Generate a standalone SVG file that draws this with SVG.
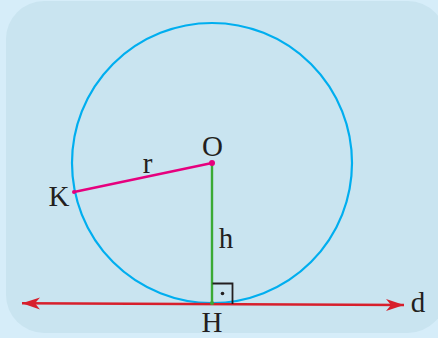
<svg xmlns="http://www.w3.org/2000/svg" width="438" height="338" viewBox="0 0 438 338">
<style>
text{font-family:"Liberation Serif","DejaVu Serif",serif;font-size:29px;fill:#231f20;}
.tm{text-anchor:middle;}
</style>
<defs>
<marker id="ah" markerUnits="userSpaceOnUse" markerWidth="20" markerHeight="14" refX="18" refY="7" orient="auto-start-reverse">
<path d="M0,1 L18,7 L0,13 L5,7 z" fill="#d71f2c"/>
</marker>
</defs>
<rect width="438" height="338" fill="#d6edf9"/>
<rect x="6" y="1" width="440" height="332" rx="38" fill="#c9e4f0"/>
<g id="circle"><circle cx="212" cy="163" r="140" fill="none" stroke="#00aeef" stroke-width="2.2"/></g>
<g id="connectors">
<line x1="22" y1="303.3" x2="404" y2="305" stroke="#d71f2c" stroke-width="2.4" marker-start="url(#ah)" marker-end="url(#ah)"/>
<line x1="212" y1="163" x2="212" y2="303" stroke="#3aaa35" stroke-width="2.4"/>
<line x1="212" y1="163" x2="74" y2="192" stroke="#e6007e" stroke-width="2.4"/>
<polyline points="212.5,283.5 232.5,283.5 232.5,304" fill="none" stroke="#231f20" stroke-width="1.8"/>
<circle cx="222.5" cy="293.5" r="1.8" fill="#231f20"/>
</g>
<g id="O"><circle cx="212" cy="163" r="3" fill="#e6007e"/><text class="tm" x="212.5" y="156">O</text></g>
<g id="K"><circle cx="74" cy="192" r="2" fill="#e6007e"/><text class="tm" x="59" y="206">K</text></g>
<g id="H"><circle cx="212" cy="303" r="2" fill="#3aaa35"/><text class="tm" x="212" y="332">H</text></g>
<text class="tm" x="147.5" y="173">r</text>
<text class="tm" x="226" y="248">h</text>
<text class="tm" x="418" y="312">d</text>
</svg>
